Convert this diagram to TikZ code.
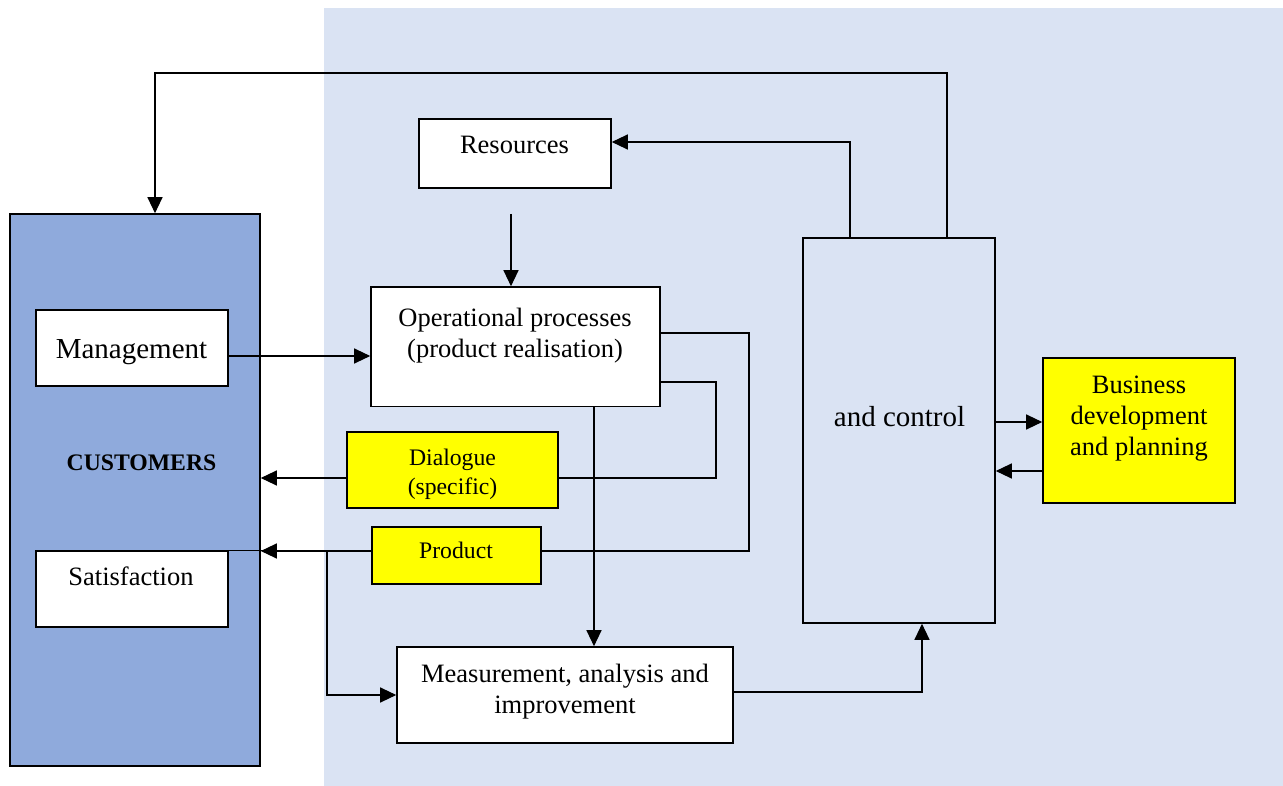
\documentclass[tikz,border=0pt]{standalone}
\usepackage{fontspec}
\setmainfont{Liberation Serif}
\usetikzlibrary{arrows.meta}
\definecolor{bgblue}{HTML}{DAE3F3}
\definecolor{custblue}{HTML}{8FAADC}
\definecolor{hlyellow}{HTML}{FFFF00}
\begin{document}
\begin{tikzpicture}[x=1pt,y=-1pt,
  box/.style={draw=black, line width=1.6pt, rectangle, inner sep=0pt, fill=white},
  ybox/.style={box, fill=hlyellow},
  txt/.style={inner sep=0pt, align=center, font=\fontsize{26.5}{31}\selectfont},
  stxt/.style={inner sep=0pt, align=center, font=\fontsize{23.7}{29}\selectfont},
  btxt/.style={inner sep=0pt, align=center, font=\fontsize{29}{33}\selectfont},
  conn/.style={draw=black, line width=1.2pt},
  arr/.style={conn, -{Triangle[length=16pt,width=15pt]}}]
\useasboundingbox (0,0) rectangle (1283,786);
\fill[bgblue] (324,8) rectangle (1283,786);

% boxes
\node[box, fill=custblue, minimum width=250pt, minimum height=552pt] (cust) at (135,490) {};
\node[box, minimum width=192pt, minimum height=76pt] (mgmt) at (132,348) {};
\node[box, minimum width=192pt, minimum height=76pt] (sat) at (132,589) {};
\node[box, minimum width=192pt, minimum height=69pt] (res) at (515,153.5) {};
\node[box, minimum width=289pt, minimum height=119.5pt] (op) at (515.5,346.75) {};
\node[ybox, minimum width=211pt, minimum height=76pt] (dia) at (452.5,470) {};
\node[ybox, minimum width=169pt, minimum height=57pt] (prod) at (456.5,555.5) {};
\node[box, minimum width=336pt, minimum height=96pt] (meas) at (565,695) {};
\node[box, fill=none, minimum width=192pt, minimum height=385pt] (ctrl) at (899,430.5) {};
\node[ybox, minimum width=192pt, minimum height=145pt] (bus) at (1139,430.5) {};

% texts
\node[btxt, anchor=base] (mgmtT) at (131.5,359) {Management};
\node[inner sep=0pt, anchor=base, font=\fontsize{23.7}{28}\selectfont\bfseries] (custT) at (141.5,470) {CUSTOMERS};
\node[txt, anchor=base] (satT) at (131,585) {Satisfaction};
\node[txt, anchor=base] (resT) at (514.5,154) {Resources};
\node[txt] (opT) at (515,335.5) {Operational processes\\(product realisation)};
\node[stxt] (diaT) at (452.5,474.5) {Dialogue\\(specific)};
\node[stxt, anchor=base] (prodT) at (456,558) {Product};
\node[txt] (measT) at (565,691.5) {Measurement, analysis and\\improvement};
\node[btxt, anchor=base] (ctrlT) at (899.5,426) {and control};
\node[txt] (busT) at (1139,418.5) {Business\\development\\and planning};

% helper coordinates
\coordinate (c947) at (947,0);
\coordinate (c850) at (850,0);
\coordinate (c155) at (155,0);
\coordinate (ytop) at (0,73);
\coordinate (y142) at (0,142);
\coordinate (rs) at (511,214);
\coordinate (y356) at (0,356);
\coordinate (y334) at (0,333);
\coordinate (c749) at (749,0);
\coordinate (y551) at (0,551);
\coordinate (y381) at (0,382);
\coordinate (c716) at (716,0);
\coordinate (y478) at (0,478);
\coordinate (c594) at (594,0);
\coordinate (c327) at (327,0);
\coordinate (y693) at (0,692);
\coordinate (c922) at (922,0);
\coordinate (y422) at (0,422);
\coordinate (y471) at (0,471);

% connectors
\draw[arr] (ctrl.north -| c947) -- (c947 |- ytop) -- (c155 |- ytop) -- (cust.north -| c155);
\draw[arr] (ctrl.north -| c850) -- (c850 |- y142) -- (res.east |- y142);
\draw[arr] (rs) -- (rs |- op.north);
\draw[arr] (mgmt.east |- y356) -- (op.west |- y356);
\draw[conn] (op.east |- y334) -- (c749 |- y334) -- (c749 |- y551) -- (prod.east |- y551);
\draw[arr] (prod.west |- y551) -- (cust.east |- y551);
\draw[conn] (op.east |- y381) -- (c716 |- y381) -- (c716 |- y478) -- (dia.east |- y478);
\draw[arr] (dia.west |- y478) -- (cust.east |- y478);
\draw[arr] (op.south -| c594) -- (meas.north -| c594);
\draw[arr] (sat.north east) -- (c327 |- sat.north) -- (c327 |- meas.west) -- (meas.west);
\draw[arr] (meas.east |- y693) -- (c922 |- y693) -- (ctrl.south -| c922);
\draw[arr] (ctrl.east |- y422) -- (bus.west |- y422);
\draw[arr] (bus.west |- y471) -- (ctrl.east |- y471);
\end{tikzpicture}
\end{document}
